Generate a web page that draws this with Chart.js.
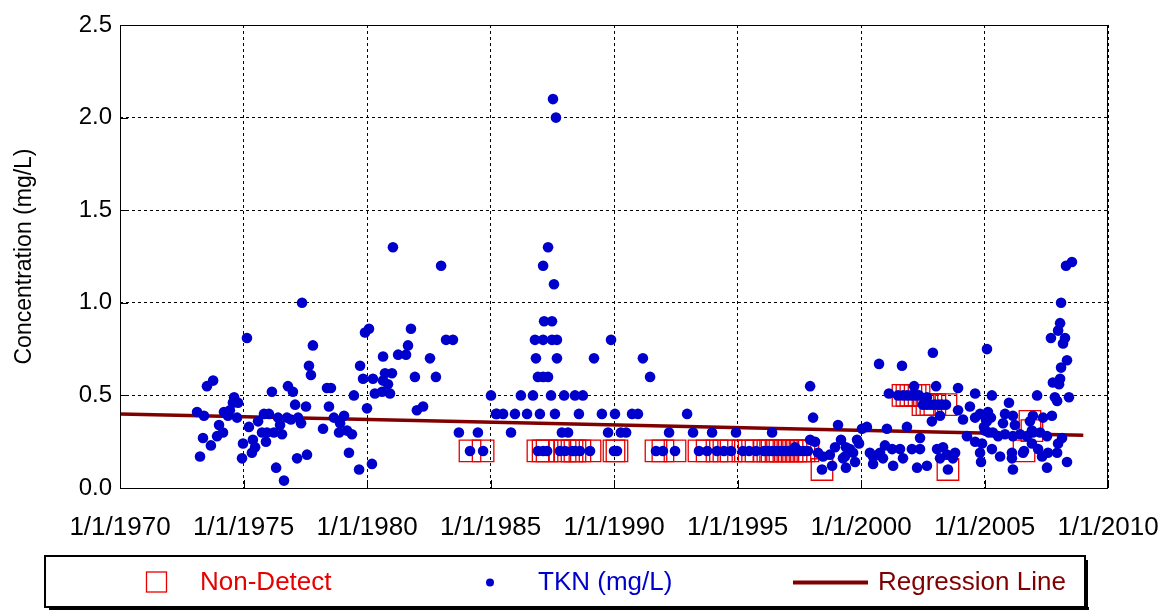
<!DOCTYPE html>
<html>
<head>
<meta charset="utf-8">
<script src="https://cdn.jsdelivr.net/npm/chart.js@4.4.0/dist/chart.umd.min.js"></script>
<style>
  html, body { margin: 0; padding: 0; background: #fff; }
  canvas { display: block; }
</style>
</head>
<body>
<canvas id="tknChart" width="1162" height="610"></canvas>
<script>
// detected TKN results (decimal year, mg/L)
const tknYears = [
  1981.05, 1977.37, 1975.14, 1977.81, 1979.92, 1980.08, 1981.78, 1981.66, 1981.58, 1981.26,
  1980.65, 1977.65, 1977.73, 1979.72, 1979.84, 1980.24, 1980.65, 1980.73, 1981.01, 1980.85,
  1981.94, 1980.32, 1980.61, 1980.93, 1979.47, 1980.00, 1982.02, 1973.52, 1973.77, 1976.15,
  1976.80, 1977.00, 1978.38, 1978.54, 1974.62, 1974.57, 1974.78, 1973.12, 1973.40, 1974.21,
  1974.37, 1974.45, 1974.74, 1974.01, 1974.17, 1973.93, 1973.36, 1973.68, 1973.24, 1975.22,
  1974.98, 1974.94, 1975.38, 1975.47, 1975.34, 1975.59, 1975.83, 1976.03, 1976.40, 1976.76,
  1976.92, 1977.21, 1975.75, 1975.95, 1976.23, 1976.56, 1976.48, 1975.91, 1977.09, 1977.53,
  1977.33, 1977.17, 1977.57, 1976.32, 1976.64, 1978.22, 1978.46, 1978.66, 1979.07, 1978.91,
  1978.87, 1979.19, 1979.39, 1979.27, 1979.68, 1980.20,
  1983.00, 1982.55, 1983.20, 1983.48, 1982.79, 1985.02, 1982.27, 1985.22, 1983.72, 1984.49,
  1987.53, 1987.65, 1987.33, 1987.13, 1987.57, 1987.17, 1987.49, 1986.80, 1987.13, 1987.49,
  1987.69, 1989.88, 1986.84, 1987.69, 1989.19, 1986.92, 1987.13, 1987.33, 1986.23, 1986.72,
  1987.45, 1987.98, 1988.42, 1988.74, 1985.26, 1985.51, 1985.99, 1986.48, 1987.00, 1987.61,
  1988.58, 1989.51, 1990.04, 1990.73, 1990.97, 1985.83, 1987.89, 1988.14, 1989.76, 1990.28,
  1990.49,
  1991.17, 1991.46, 1992.96, 1992.23, 1993.20, 1993.97, 1994.94, 1996.40, 1997.94, 1998.06,
  1999.07, 2000.04, 2000.24, 2000.73, 1997.33, 1997.94, 1998.14, 1998.26, 1998.46, 1998.83,
  1998.74, 1998.95, 1999.19, 1999.39, 1999.55, 1999.84, 1999.92, 1999.35, 1999.27, 1999.39,
  1999.76, 2000.36, 2000.49, 2000.69,
  2002.91, 2001.66, 2001.13, 2002.15, 2003.04, 2003.93, 2004.62, 2001.50, 2002.67, 2003.15,
  2003.28, 2002.87, 2003.20, 2003.93, 2004.13, 2004.41, 2004.62, 2004.82, 2004.29, 2004.62,
  2004.86, 2005.10, 2001.05, 2001.86, 2002.39, 1999.68, 2000.49, 2000.77, 2000.97, 2001.26,
  2000.89, 2001.30, 2001.58, 2001.70, 2002.06, 2002.27, 2002.39, 2002.67, 2003.08, 2003.20,
  2003.32, 2003.48, 2003.81, 2003.72, 2004.98, 2005.10, 2005.18, 2005.26,
  2008.54, 2008.30, 2008.10, 2008.06, 2007.98, 2008.26, 2008.18, 2007.69, 2008.34, 2008.10,
  2008.06, 2007.77, 2008.02, 2005.30, 2007.13, 2007.85, 2007.94, 2008.42, 2005.99, 2005.14,
  2005.06, 2005.83, 2006.15, 2005.75, 2006.23, 2006.96, 2007.37, 2007.73,
  2005.02, 2005.34, 2005.55, 2005.83, 2006.15, 2006.44, 2006.72, 2006.96, 2007.25, 2007.53,
  2008.14, 2007.98, 2004.90, 2004.82, 2005.30, 2005.63, 2006.11, 2006.11, 2006.15, 2006.56,
  2007.17, 2007.33, 2007.53, 2007.57, 2007.94, 2008.34, 2006.92
];
const tknValues = [
  1.30, 1.00, 0.81, 0.77, 0.84, 0.86, 0.86, 0.77, 0.72, 0.72,
  0.71, 0.66, 0.61, 0.66, 0.59, 0.59, 0.58, 0.62, 0.62, 0.56,
  0.60, 0.51, 0.52, 0.51, 0.50, 0.43, 0.42, 0.55, 0.58, 0.52,
  0.55, 0.52, 0.54, 0.54, 0.49, 0.46, 0.46, 0.41, 0.39, 0.41,
  0.39, 0.42, 0.38, 0.34, 0.30, 0.28, 0.27, 0.23, 0.17, 0.33,
  0.24, 0.16, 0.26, 0.22, 0.19, 0.36, 0.40, 0.40, 0.38, 0.38,
  0.37, 0.38, 0.30, 0.30, 0.30, 0.29, 0.34, 0.25, 0.45, 0.44,
  0.35, 0.16, 0.18, 0.11, 0.04, 0.32, 0.44, 0.38, 0.39, 0.35,
  0.30, 0.31, 0.29, 0.19, 0.10, 0.13,
  1.20, 0.70, 0.80, 0.80, 0.60, 0.50, 0.44, 0.40, 0.30, 0.30,
  2.10, 2.00, 1.30, 1.20, 1.10, 0.90, 0.90, 0.80, 0.80, 0.80,
  0.80, 0.80, 0.70, 0.70, 0.70, 0.60, 0.60, 0.60, 0.50, 0.50,
  0.50, 0.50, 0.50, 0.50, 0.40, 0.40, 0.40, 0.40, 0.40, 0.40,
  0.40, 0.40, 0.40, 0.40, 0.40, 0.30, 0.30, 0.30, 0.30, 0.30,
  0.30,
  0.70, 0.60, 0.40, 0.30, 0.30, 0.30, 0.30, 0.30, 0.55, 0.38,
  0.34, 0.32, 0.33, 0.67, 0.22, 0.26, 0.25, 0.19, 0.17, 0.12,
  0.18, 0.22, 0.26, 0.22, 0.21, 0.26, 0.24, 0.17, 0.16, 0.11,
  0.14, 0.19, 0.13, 0.18,
  0.73, 0.66, 0.51, 0.55, 0.55, 0.54, 0.51, 0.50, 0.49, 0.45,
  0.45, 0.36, 0.39, 0.42, 0.37, 0.44, 0.38, 0.40, 0.28, 0.25,
  0.14, 0.75, 0.32, 0.33, 0.27, 0.19, 0.17, 0.19, 0.23, 0.21,
  0.16, 0.12, 0.21, 0.16, 0.21, 0.11, 0.21, 0.12, 0.21, 0.16,
  0.22, 0.18, 0.19, 0.16, 0.33, 0.36, 0.30, 0.38,
  1.22, 1.20, 1.00, 0.89, 0.85, 0.81, 0.78, 0.81, 0.69, 0.65,
  0.59, 0.57, 0.56, 0.50, 0.50, 0.49, 0.47, 0.49, 0.46, 0.41,
  0.37, 0.40, 0.39, 0.35, 0.34, 0.39, 0.38, 0.39,
  0.31, 0.30, 0.28, 0.29, 0.28, 0.29, 0.28, 0.30, 0.30, 0.28,
  0.27, 0.24, 0.24, 0.19, 0.21, 0.17, 0.19, 0.16, 0.10, 0.19,
  0.21, 0.17, 0.11, 0.19, 0.19, 0.14, 0.24
];

// non-detects, plotted at the reporting limit
const ndYears = [
  1984.17, 1984.70, 1986.92, 1987.13, 1987.29, 1987.81, 1988.02, 1988.30, 1988.42, 1988.62,
  1989.03, 1990.00, 1990.12, 1991.70, 1991.98, 1992.47, 1993.44, 1993.77, 1994.17, 1994.45,
  1994.74, 1995.22, 1995.47, 1995.75, 1996.07, 1996.23, 1996.40, 1996.56, 1996.72, 1996.88,
  1997.04, 1997.21, 1997.37, 1997.53, 1997.69, 1997.85, 1998.42, 2001.70, 2001.86, 2002.02,
  2002.19, 2002.35, 2002.51, 2002.67, 2002.83, 2002.99, 2003.44, 2003.52, 2006.84, 2006.92,
  2006.60
];
const ndValues = [
  0.20, 0.20, 0.20, 0.20, 0.20, 0.20, 0.20, 0.20, 0.20, 0.20,
  0.20, 0.20, 0.20, 0.20, 0.20, 0.20, 0.20, 0.20, 0.20, 0.20,
  0.20, 0.20, 0.20, 0.20, 0.20, 0.20, 0.20, 0.20, 0.20, 0.20,
  0.20, 0.20, 0.20, 0.20, 0.20, 0.20, 0.10, 0.50, 0.50, 0.50,
  0.50, 0.50, 0.45, 0.45, 0.45, 0.45, 0.45, 0.10, 0.36, 0.31,
  0.20
];

// regression line end points
const regYears = [1970, 2009.0];
const regValues = [0.40, 0.285];

const xTickYears = [1970, 1975, 1980, 1985, 1990, 1995, 2000, 2005, 2010];
const yTickValues = [0, 0.5, 1.0, 1.5, 2.0, 2.5];

const FONT = "'Liberation Sans', Arial, sans-serif";
const DOT_BLUE = '#0000cc';
const ND_RED = '#e60000';
const REG_RED = '#800000';

function toPoints(xs, ys) {
  return xs.map((x, i) => ({ x: x, y: ys[i] }));
}

// blue dots include the non-detects too
const tknPoints = toPoints(tknYears, tknValues).concat(toPoints(ndYears, ndValues));

// solid frame, short inner ticks and the boxed legend
const framePlugin = {
  id: 'frame',
  afterDatasetsDraw(chart) {
    const ctx = chart.ctx;
    const a = chart.chartArea;
    const xs = chart.scales.x, ys = chart.scales.y;
    ctx.save();
    ctx.strokeStyle = '#000';
    ctx.lineWidth = 1;
    ctx.setLineDash([]);
    ctx.strokeRect(a.left + 0.5, a.top + 0.5, a.right - a.left - 1, a.bottom - a.top);
    ctx.beginPath();
    yTickValues.forEach(v => {
      const y = Math.round(ys.getPixelForValue(v)) + 0.5;
      ctx.moveTo(a.left, y); ctx.lineTo(a.left + 8, y);
    });
    xTickYears.forEach(v => {
      const x = Math.round(xs.getPixelForValue(v)) + 0.5;
      ctx.moveTo(x, a.bottom); ctx.lineTo(x, a.bottom - 8);
    });
    ctx.stroke();
    ctx.restore();
  },
  afterDraw(chart) {
    const ctx = chart.ctx;
    const bx = 45, by = 556, bw = 1040, bh = 51;
    const cy = by + bh / 2 + 1;
    ctx.save();
    // shadow
    ctx.fillStyle = '#000';
    ctx.fillRect(bx + 4, by + bh, bw, 3);
    ctx.fillRect(bx + bw, by + 4, 3, bh);
    ctx.fillStyle = '#fff';
    ctx.fillRect(bx, by, bw, bh);
    ctx.strokeStyle = '#000';
    ctx.lineWidth = 2;
    ctx.strokeRect(bx, by, bw, bh);

    ctx.font = '26px ' + FONT;
    ctx.textBaseline = 'middle';
    ctx.textAlign = 'left';

    ctx.strokeStyle = ND_RED;
    ctx.lineWidth = 1.3;
    ctx.strokeRect(146.5, cy - 10.5, 20, 20);
    ctx.fillStyle = ND_RED;
    ctx.fillText('Non-Detect', 200, cy);

    ctx.fillStyle = DOT_BLUE;
    ctx.beginPath();
    ctx.arc(490, cy, 4, 0, Math.PI * 2);
    ctx.fill();
    ctx.fillText('TKN (mg/L)', 538, cy);

    ctx.strokeStyle = REG_RED;
    ctx.lineWidth = 4;
    ctx.beginPath();
    ctx.moveTo(793, cy); ctx.lineTo(868, cy);
    ctx.stroke();
    ctx.fillStyle = REG_RED;
    ctx.fillText('Regression Line', 878, cy);
    ctx.restore();
  }
};

const chart = new Chart(document.getElementById('tknChart').getContext('2d'), {
  type: 'scatter',
  data: {
    datasets: [
      {
        label: 'TKN (mg/L)',
        data: tknPoints,
        backgroundColor: DOT_BLUE,
        borderWidth: 0,
        pointRadius: 5.3,
        order: 1
      },
      {
        label: 'Non-Detect',
        data: toPoints(ndYears, ndValues),
        pointStyle: 'rect',
        backgroundColor: 'rgba(0,0,0,0)',
        borderColor: ND_RED,
        borderWidth: 1.3,
        pointRadius: 15.2,
        order: 2
      },
      {
        label: 'Regression Line',
        data: toPoints(regYears, regValues),
        showLine: true,
        borderColor: REG_RED,
        borderWidth: 3.5,
        pointRadius: 0,
        order: 3
      }
    ]
  },
  options: {
    responsive: false,
    animation: false,
    events: [],
    layout: { padding: { top: 25, right: 54, bottom: 70, left: 0 } },
    plugins: {
      legend: { display: false },
      tooltip: { enabled: false }
    },
    scales: {
      x: {
        type: 'linear',
        min: 1970,
        max: 2010,
        afterFit: s => { s.height = 52; s.paddingLeft = 0; s.paddingRight = 0; },
        afterBuildTicks: s => { s.ticks = xTickYears.map(v => ({ value: v })); },
        grid: { color: '#000', lineWidth: 1, drawTicks: false },
        border: { display: false, dash: [3, 3] },
        ticks: {
          color: '#000',
          font: { family: FONT, size: 26 },
          padding: 24,
          maxRotation: 0,
          autoSkip: false,
          callback: v => '1/1/' + v
        }
      },
      y: {
        min: 0,
        max: 2.5,
        afterFit: s => { s.width = 120; s.paddingTop = 0; s.paddingBottom = 0; },
        afterBuildTicks: s => { s.ticks = yTickValues.map(v => ({ value: v })); },
        grid: { color: '#000', lineWidth: 1, drawTicks: false },
        border: { display: false, dash: [3, 3] },
        ticks: {
          color: '#000',
          font: { family: FONT, size: 24 },
          padding: 8,
          callback: v => v.toFixed(1)
        },
        title: {
          display: true,
          text: 'Concentration (mg/L)',
          color: '#000',
          font: { family: FONT, size: 23 },
          padding: { top: 11, bottom: 0 }
        }
      }
    }
  },
  plugins: [framePlugin]
});
</script>
</body>
</html>
